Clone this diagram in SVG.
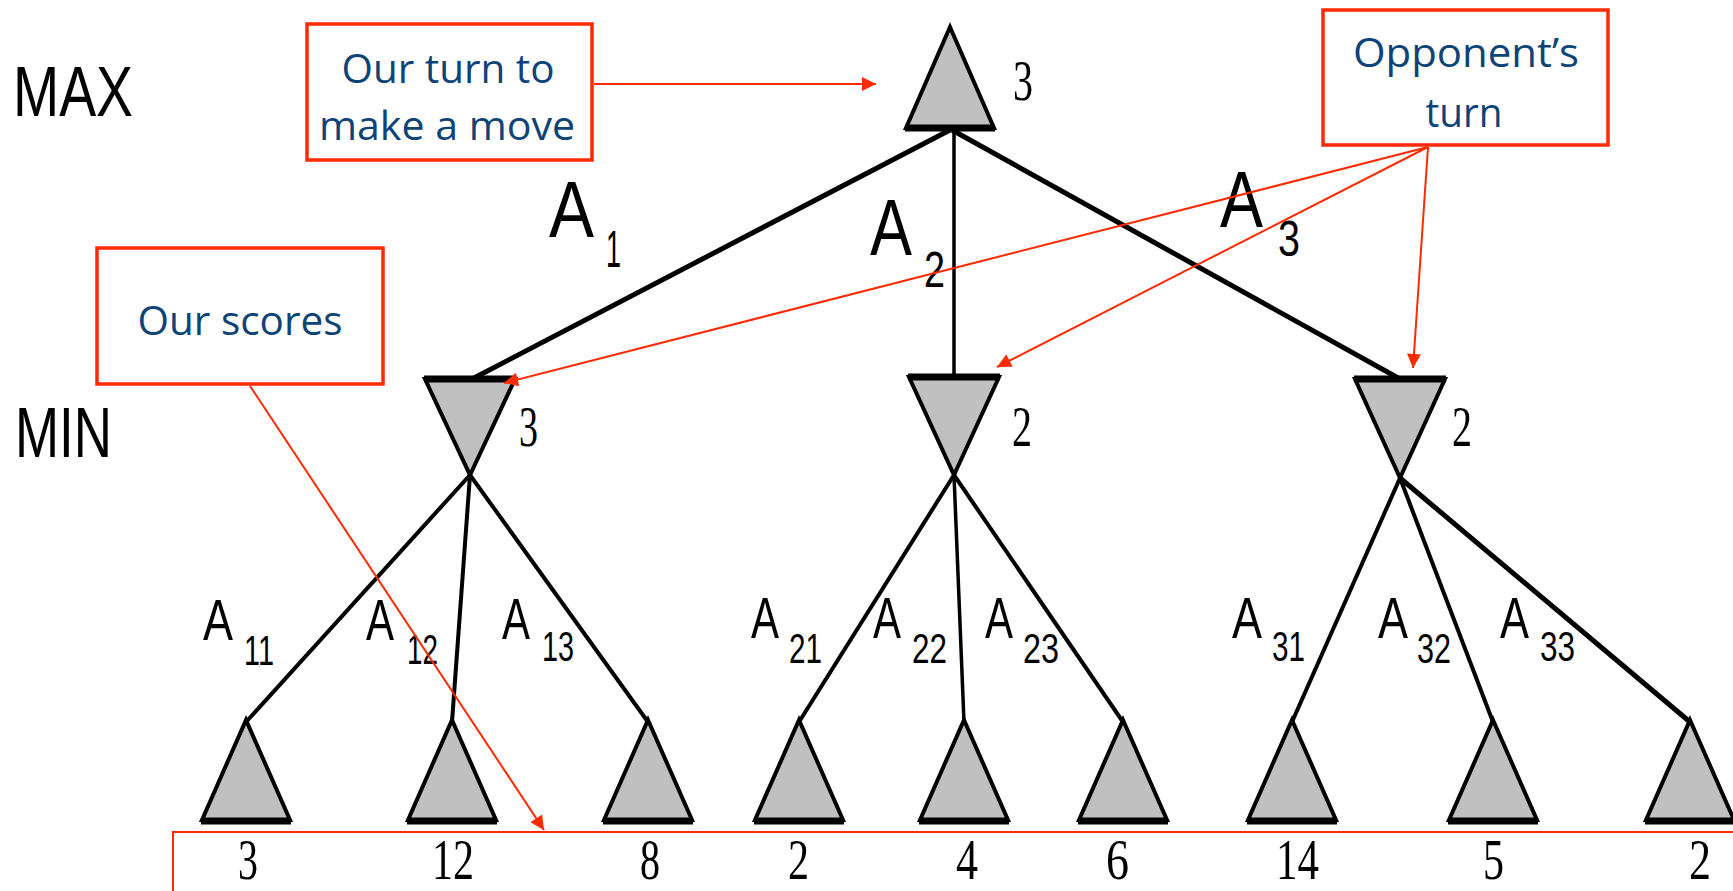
<svg xmlns="http://www.w3.org/2000/svg" width="1733" height="891" viewBox="0 0 1733 891">
<style>
.tri{fill:#c0c0c0;stroke:#000;stroke-width:4;stroke-linejoin:miter}
.bar{stroke:#000;stroke-width:7}
.edge{stroke:#000;fill:none}
.lvl{font-family:"Liberation Sans",Arial,sans-serif;fill:#000}
.val{font-family:"Liberation Serif","Times New Roman",serif;fill:#000}
.box{fill:#fff;stroke:#ff2a00;stroke-width:3.5}
.note{font-family:"Open Sans","Noto Sans",sans-serif;font-size:40px;fill:#0e4377;text-anchor:middle}
.red{stroke:#ff2a00;stroke-width:2;fill:none}
.lab{font-family:"Liberation Sans",Arial,sans-serif;fill:#000}
</style>
<defs>
<marker id="ah" viewBox="0 0 10 10" refX="10" refY="5" markerWidth="18" markerHeight="14" markerUnits="userSpaceOnUse" orient="auto">
<path d="M0,0 L10,5 L0,10 z" fill="#ff2a00"/>
</marker>
</defs>
<rect width="1733" height="891" fill="#fff"/>

<g id="levels">
<text class="lvl" x="13" y="116" font-size="71" textLength="120" lengthAdjust="spacingAndGlyphs">MAX</text>
<text class="lvl" x="15" y="457" font-size="70" textLength="97" lengthAdjust="spacingAndGlyphs">MIN</text>
</g>

<g id="connectors">
<line class="edge" x1="950" y1="130" x2="472" y2="379" stroke-width="5"/>
<line class="edge" x1="954" y1="130" x2="954" y2="376" stroke-width="3.5"/>
<line class="edge" x1="952" y1="130" x2="1400" y2="379" stroke-width="5"/>
<line class="edge" x1="470" y1="475" x2="246" y2="722" stroke-width="4"/>
<line class="edge" x1="470" y1="475" x2="452" y2="722" stroke-width="4"/>
<line class="edge" x1="470" y1="475" x2="648" y2="722" stroke-width="4"/>
<line class="edge" x1="954" y1="475" x2="799" y2="722" stroke-width="4"/>
<line class="edge" x1="954" y1="475" x2="964" y2="722" stroke-width="3.5"/>
<line class="edge" x1="954" y1="475" x2="1123" y2="722" stroke-width="4"/>
<line class="edge" x1="1400" y1="478" x2="1292" y2="722" stroke-width="4"/>
<line class="edge" x1="1400" y1="478" x2="1493" y2="722" stroke-width="4"/>
<line class="edge" x1="1400" y1="478" x2="1690" y2="722" stroke-width="5"/>
</g>

<g id="edge-labels">
<text class="lab" x="549" y="237" font-size="80" textLength="45" lengthAdjust="spacingAndGlyphs">A</text>
<text class="lab" x="606" y="267" font-size="52" textLength="15" lengthAdjust="spacingAndGlyphs">1</text>
<text class="lab" x="870" y="255" font-size="80" textLength="42" lengthAdjust="spacingAndGlyphs">A</text>
<text class="lab" x="924" y="287" font-size="50" textLength="21" lengthAdjust="spacingAndGlyphs">2</text>
<text class="lab" x="1220" y="227" font-size="80" textLength="43" lengthAdjust="spacingAndGlyphs">A</text>
<text class="lab" x="1278" y="256" font-size="50" textLength="22" lengthAdjust="spacingAndGlyphs">3</text>

<text class="lab" x="203" y="640" font-size="57" textLength="30" lengthAdjust="spacingAndGlyphs">A</text>
<text class="lab" x="244" y="665" font-size="42" textLength="30" lengthAdjust="spacingAndGlyphs">11</text>
<text class="lab" x="366" y="640" font-size="57" textLength="28" lengthAdjust="spacingAndGlyphs">A</text>
<text class="lab" x="407" y="664" font-size="42" textLength="31" lengthAdjust="spacingAndGlyphs">12</text>
<text class="lab" x="502" y="639" font-size="57" textLength="28" lengthAdjust="spacingAndGlyphs">A</text>
<text class="lab" x="542" y="661" font-size="42" textLength="32" lengthAdjust="spacingAndGlyphs">13</text>
<text class="lab" x="751" y="638" font-size="57" textLength="28" lengthAdjust="spacingAndGlyphs">A</text>
<text class="lab" x="789" y="663" font-size="42" textLength="33" lengthAdjust="spacingAndGlyphs">21</text>
<text class="lab" x="873" y="638" font-size="57" textLength="28" lengthAdjust="spacingAndGlyphs">A</text>
<text class="lab" x="912" y="663" font-size="42" textLength="35" lengthAdjust="spacingAndGlyphs">22</text>
<text class="lab" x="985" y="638" font-size="57" textLength="28" lengthAdjust="spacingAndGlyphs">A</text>
<text class="lab" x="1023" y="663" font-size="42" textLength="36" lengthAdjust="spacingAndGlyphs">23</text>
<text class="lab" x="1232" y="638" font-size="57" textLength="30" lengthAdjust="spacingAndGlyphs">A</text>
<text class="lab" x="1272" y="661" font-size="42" textLength="33" lengthAdjust="spacingAndGlyphs">31</text>
<text class="lab" x="1378" y="638" font-size="57" textLength="30" lengthAdjust="spacingAndGlyphs">A</text>
<text class="lab" x="1417" y="663" font-size="42" textLength="34" lengthAdjust="spacingAndGlyphs">32</text>
<text class="lab" x="1500" y="638" font-size="57" textLength="29" lengthAdjust="spacingAndGlyphs">A</text>
<text class="lab" x="1540" y="661" font-size="42" textLength="35" lengthAdjust="spacingAndGlyphs">33</text>
</g>

<g id="node-max">
<polygon class="tri" points="950,27 994,128 906,128"/>
<line class="bar" x1="905" y1="128" x2="995" y2="128"/>
<text class="val" x="1013" y="100" font-size="58" textLength="20" lengthAdjust="spacingAndGlyphs">3</text>
</g>

<g id="node-min1">
<polygon class="tri" points="425,379 515,379 470,475"/>
<line class="bar" x1="424" y1="379" x2="516" y2="379"/>
<text class="val" x="519" y="446" font-size="58" textLength="19" lengthAdjust="spacingAndGlyphs">3</text>
</g>
<g id="node-min2">
<polygon class="tri" points="909,377 999,377 954,475"/>
<line class="bar" x1="908" y1="377" x2="1000" y2="377"/>
<text class="val" x="1012" y="446" font-size="58" textLength="20" lengthAdjust="spacingAndGlyphs">2</text>
</g>
<g id="node-min3">
<polygon class="tri" points="1355,379 1445,379 1400,478"/>
<line class="bar" x1="1354" y1="379" x2="1446" y2="379"/>
<text class="val" x="1452" y="446" font-size="58" textLength="20" lengthAdjust="spacingAndGlyphs">2</text>
</g>

<g id="leaf1"><polygon class="tri" points="246,720 290,820 202,820"/><line class="bar" x1="201" y1="821" x2="291" y2="821"/><text class="val" x="238" y="879" font-size="58" textLength="20" lengthAdjust="spacingAndGlyphs">3</text></g>
<g id="leaf2"><polygon class="tri" points="452,720 496,820 408,820"/><line class="bar" x1="407" y1="821" x2="497" y2="821"/><text class="val" x="432" y="879" font-size="58" textLength="42" lengthAdjust="spacingAndGlyphs">12</text></g>
<g id="leaf3"><polygon class="tri" points="648,720 692,820 604,820"/><line class="bar" x1="603" y1="821" x2="693" y2="821"/><text class="val" x="640" y="879" font-size="58" textLength="20" lengthAdjust="spacingAndGlyphs">8</text></g>
<g id="leaf4"><polygon class="tri" points="799,720 843,820 755,820"/><line class="bar" x1="754" y1="821" x2="844" y2="821"/><text class="val" x="788" y="879" font-size="58" textLength="21" lengthAdjust="spacingAndGlyphs">2</text></g>
<g id="leaf5"><polygon class="tri" points="964,720 1008,820 920,820"/><line class="bar" x1="919" y1="821" x2="1009" y2="821"/><text class="val" x="956" y="879" font-size="58" textLength="22" lengthAdjust="spacingAndGlyphs">4</text></g>
<g id="leaf6"><polygon class="tri" points="1123,720 1167,820 1079,820"/><line class="bar" x1="1078" y1="821" x2="1168" y2="821"/><text class="val" x="1106" y="879" font-size="58" textLength="23" lengthAdjust="spacingAndGlyphs">6</text></g>
<g id="leaf7"><polygon class="tri" points="1292,720 1336,820 1248,820"/><line class="bar" x1="1247" y1="821" x2="1337" y2="821"/><text class="val" x="1276" y="879" font-size="58" textLength="43" lengthAdjust="spacingAndGlyphs">14</text></g>
<g id="leaf8"><polygon class="tri" points="1493,720 1537,820 1449,820"/><line class="bar" x1="1448" y1="821" x2="1538" y2="821"/><text class="val" x="1483" y="879" font-size="58" textLength="21" lengthAdjust="spacingAndGlyphs">5</text></g>
<g id="leaf9"><polygon class="tri" points="1690,720 1734,820 1646,820"/><line class="bar" x1="1645" y1="821" x2="1735" y2="821"/><text class="val" x="1689" y="879" font-size="58" textLength="22" lengthAdjust="spacingAndGlyphs">2</text></g>

<g id="scores-bracket">
<polyline class="red" points="1733,832 173,832 173,891"/>
</g>

<g id="note-our-turn">
<rect class="box" x="307" y="24" width="285" height="136"/>
<text class="note" x="448" y="83" textLength="213" lengthAdjust="spacingAndGlyphs">Our turn to</text>
<text class="note" x="447" y="140" textLength="256" lengthAdjust="spacingAndGlyphs">make a move</text>
</g>
<g id="note-opponent">
<rect class="box" x="1323" y="10" width="285" height="135"/>
<text class="note" x="1466" y="67" textLength="226" lengthAdjust="spacingAndGlyphs">Opponent’s</text>
<text class="note" x="1464" y="127" textLength="77" lengthAdjust="spacingAndGlyphs">turn</text>
</g>
<g id="note-scores">
<rect class="box" x="97" y="248" width="286" height="136"/>
<text class="note" x="240" y="335" textLength="205" lengthAdjust="spacingAndGlyphs">Our scores</text>
</g>

<g id="annotation-arrows">
<line class="red" x1="594" y1="84" x2="876" y2="84" marker-end="url(#ah)"/>
<line class="red" x1="250" y1="386" x2="544" y2="830" marker-end="url(#ah)"/>
<line class="red" x1="1428" y1="147" x2="504" y2="383" marker-end="url(#ah)"/>
<line class="red" x1="1428" y1="147" x2="997" y2="367" marker-end="url(#ah)"/>
<line class="red" x1="1428" y1="147" x2="1413" y2="368" marker-end="url(#ah)"/>
</g>
</svg>
